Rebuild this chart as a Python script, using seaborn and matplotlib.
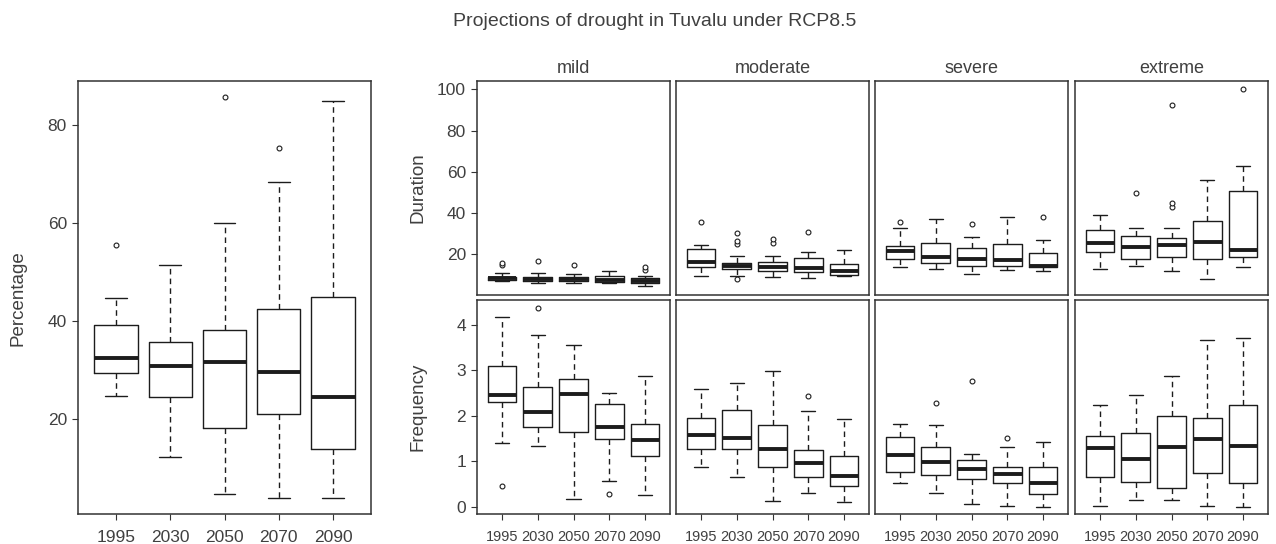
import numpy as np
import pandas as pd
import seaborn as sns
import matplotlib.pyplot as plt

years = ["1995", "2030", "2050", "2070", "2090"]
severities = ["mild", "moderate", "severe", "extreme"]

# each box: [low whisker, q1, median, q3, high whisker]
pct_box = [
    [24.7, 29.4, 32.5, 39.1, 44.6],
    [12.4, 24.6, 30.9, 35.7, 51.4],
    [4.8, 18.2, 31.7, 38.2, 60.0],
    [4.0, 21.0, 29.6, 42.5, 68.3],
    [3.9, 14.0, 24.6, 45.0, 84.9],
]
pct_out = [[55.4], [], [85.7], [75.3], []]

dur_mild = [
    [7.0, 7.8, 8.3, 9.0, 11.2],
    [6.2, 7.0, 8.0, 9.0, 10.8],
    [6.2, 7.2, 8.1, 9.0, 10.5],
    [6.0, 6.7, 7.8, 9.4, 11.8],
    [4.6, 6.0, 7.2, 8.3, 9.5],
]
dur_mild_out = [[14.8, 15.8], [16.9], [14.7], [], [12.2, 13.8]]

dur_moderate = [
    [9.5, 13.7, 16.1, 22.4, 24.4],
    [9.6, 12.7, 14.5, 15.6, 19.3],
    [9.0, 12.1, 14.0, 16.1, 19.0],
    [8.7, 11.3, 13.5, 18.2, 21.1],
    [9.6, 10.0, 12.1, 15.2, 21.9],
]
dur_moderate_out = [[35.6], [7.9, 24.8, 26.6, 30.5], [25.6, 27.6], [30.9], []]

dur_severe = [
    [13.9, 17.6, 21.5, 24.2, 32.6],
    [12.7, 15.6, 18.5, 25.3, 37.2],
    [10.3, 14.5, 17.6, 22.9, 28.4],
    [12.4, 14.5, 17.2, 24.8, 38.1],
    [11.9, 13.7, 14.2, 20.8, 26.9],
]
dur_severe_out = [[35.5], [], [34.8], [], [38.2]]

dur_extreme = [
    [12.9, 21.0, 25.5, 31.8, 38.9],
    [14.3, 17.7, 23.7, 29.0, 33.0],
    [11.8, 18.5, 24.6, 28.0, 32.6],
    [8.2, 17.9, 26.1, 36.1, 56.0],
    [13.7, 18.5, 22.1, 50.8, 62.9],
]
dur_extreme_out = [[], [49.5], [43.1, 44.7, 92.2], [], [100.2]]

freq_mild = [
    [1.41, 2.31, 2.46, 3.10, 4.17],
    [1.34, 1.75, 2.08, 2.63, 3.77],
    [0.16, 1.64, 2.48, 2.81, 3.55],
    [0.57, 1.49, 1.76, 2.27, 2.51],
    [0.25, 1.12, 1.47, 1.81, 2.88],
]
freq_mild_out = [[0.45], [4.37], [], [0.28], []]

freq_moderate = [
    [0.87, 1.26, 1.58, 1.96, 2.59],
    [0.65, 1.27, 1.52, 2.12, 2.73],
    [0.13, 0.87, 1.26, 1.80, 2.98],
    [0.30, 0.65, 0.96, 1.25, 2.11],
    [0.11, 0.46, 0.68, 1.12, 1.92],
]
freq_moderate_out = [[], [], [], [2.44], []]

freq_severe = [
    [0.53, 0.76, 1.14, 1.54, 1.82],
    [0.30, 0.69, 0.98, 1.31, 1.80],
    [0.06, 0.60, 0.82, 1.03, 1.16],
    [0.01, 0.52, 0.71, 0.88, 1.31],
    [0.00, 0.29, 0.52, 0.87, 1.42],
]
freq_severe_out = [[], [2.28], [2.76], [1.52], []]

freq_extreme = [
    [0.02, 0.65, 1.29, 1.56, 2.25],
    [0.15, 0.55, 1.04, 1.63, 2.45],
    [0.14, 0.42, 1.31, 2.00, 2.87],
    [0.01, 0.75, 1.48, 1.96, 3.67],
    [0.00, 0.53, 1.34, 2.24, 3.72],
]
freq_extreme_out = [[], [], [], [], []]

LINE = "#1c1c1c"
TEXT = "#404040"

sns.set_theme(style="ticks")
plt.rcParams["font.family"] = ["Liberation Sans", "DejaVu Sans"]
plt.rcParams["axes.edgecolor"] = "#333333"
plt.rcParams["axes.linewidth"] = 1.1


def to_long(boxes):
    return pd.DataFrame({"year": np.repeat(years, 5), "value": np.concatenate(boxes)})


def out_long(outs):
    rows = [(y, v) for y, vals in zip(years, outs) for v in vals]
    return pd.DataFrame(rows, columns=["year", "value"])


def draw(ax, boxes, outs):
    # whis=(0, 100) -> whiskers at min/max of the five-number summary
    sns.boxplot(data=to_long(boxes), x="year", y="value", order=years, ax=ax,
                whis=(0, 100), width=0.8, fill=False, color=LINE, linewidth=1.0,
                showfliers=False, medianprops=dict(linewidth=2.8),
                whiskerprops=dict(linestyle=(0, (4, 3))))
    o = out_long(outs)
    if len(o):
        sns.stripplot(data=o, x="year", y="value", order=years, ax=ax,
                      jitter=False, size=3.5, color="white",
                      edgecolor=LINE, linewidth=0.8, zorder=5)
    ax.set_xlim(-0.7, 4.7)
    ax.set_xlabel("")
    ax.set_ylabel("")
    ax.tick_params(direction="out", length=4.5, width=0.8, color="#333333",
                   labelcolor=TEXT)
    ax.tick_params(axis="x", pad=7)


W, H = 1276, 544
fig = plt.figure(figsize=(W / 100, H / 100), dpi=100)


def px_axes(x0, y0, x1, y1):
    return fig.add_axes([x0 / W, 1 - y1 / H, (x1 - x0) / W, (y1 - y0) / H])


# left panel
ax = px_axes(78, 81, 371, 514)
draw(ax, pct_box, pct_out)
ax.set_ylim(0.7, 88.9)
ax.set_yticks([20, 40, 60, 80])
ax.tick_params(labelsize=12.5)
fig.text(18 / W, 1 - 298 / H, "Percentage", rotation=90, ha="center",
         va="center", fontsize=13.5, color=TEXT)

dur_sets = [(dur_mild, dur_mild_out), (dur_moderate, dur_moderate_out),
            (dur_severe, dur_severe_out), (dur_extreme, dur_extreme_out)]
freq_sets = [(freq_mild, freq_mild_out), (freq_moderate, freq_moderate_out),
             (freq_severe, freq_severe_out), (freq_extreme, freq_extreme_out)]

col_x = [477, 676, 875, 1075]
for i, sev in enumerate(severities):
    x0 = col_x[i]
    axd = px_axes(x0, 81, x0 + 193, 295)
    draw(axd, *dur_sets[i])
    axd.set_ylim(0.3, 104)
    axd.set_yticks([20, 40, 60, 80, 100])
    axd.tick_params(bottom=False, labelbottom=False, labelsize=12.5)
    axd.set_title(sev, fontsize=13, color=TEXT, pad=6)

    axf = px_axes(x0, 300, x0 + 193, 514)
    draw(axf, *freq_sets[i])
    axf.set_ylim(-0.16, 4.55)
    axf.set_yticks([0, 1, 2, 3, 4])
    axf.tick_params(axis="y", labelsize=12.5)
    axf.tick_params(axis="x", labelsize=10.5)

    if i > 0:
        axd.tick_params(left=False, labelleft=False)
        axf.tick_params(left=False, labelleft=False)

fig.text(418 / W, 1 - 188 / H, "Duration", rotation=90, ha="center",
         va="center", fontsize=13.5, color=TEXT)
fig.text(418 / W, 1 - 407 / H, "Frequency", rotation=90, ha="center",
         va="center", fontsize=13.5, color=TEXT)
fig.text(655 / W, 1 - 22 / H, "Projections of drought in Tuvalu under RCP8.5",
         ha="center", va="center", fontsize=14, color=TEXT)

fig.savefig("out.png", dpi=100)
